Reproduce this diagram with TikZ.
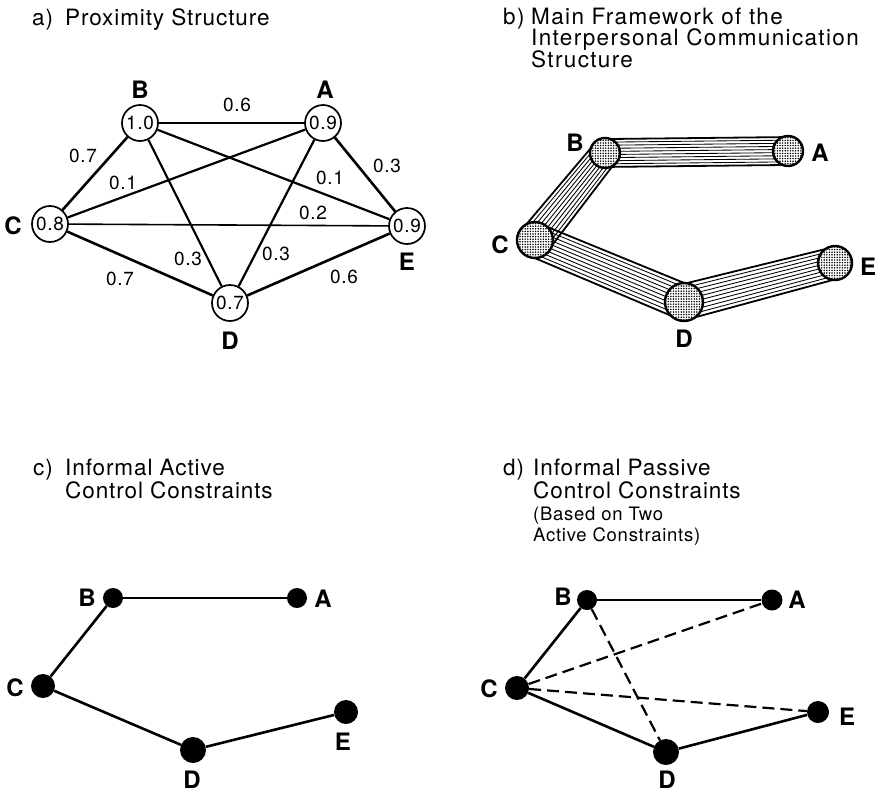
\documentclass[tikz,border=0pt]{standalone}
\usepackage{fontspec}
\usetikzlibrary{calc,patterns}
\newfontfamily\herostitle{TeX Gyre Heros}[LetterSpace=4]
\newfontfamily\heroswide{TeX Gyre Heros}[LetterSpace=6]
\newfontfamily\herosnum{TeX Gyre Heros}[LetterSpace=4]
\newfontfamily\heroslbl{TeX Gyre Heros}
\newcommand\titlefont{\herostitle\fontsize{22.5}{24}\selectfont}
\newcommand\widetitlefont{\heroswide\fontsize{22.5}{24}\selectfont}
\newcommand\smalltitlefont{\herostitle\fontsize{18.5}{20}\selectfont}
\newcommand\numfont{\herosnum\fontsize{19}{20}\selectfont}
\newcommand\lblfont{\heroslbl\bfseries\fontsize{24}{25}\selectfont}

% fine stipple used inside the framework circles
\pgfdeclarepatternformonly{stipple}{\pgfqpoint{-1pt}{-1pt}}{\pgfqpoint{1pt}{1pt}}{\pgfqpoint{2.6pt}{2.6pt}}%
  {\pgfpathcircle{\pgfpointorigin}{0.85pt}\pgfusepath{fill}}

% hatched band between two circle centres #1,#2 with radii #3,#4
\newcommand\drawband[4]{%
  \foreach \k in {0,...,9}{%
    \pgfmathsetmacro\bt{-1+2*\k/9}%
    \pgfmathsetmacro\da{0.93*\bt*#3}%
    \pgfmathsetmacro\db{0.93*\bt*#4}%
    \ifnum\k=0 \def\bw{1.8}\else\ifnum\k=9 \def\bw{1.8}\else\def\bw{0.85}\fi\fi
    \draw[line width=\bw] ($(#1)!\da pt!90:(#2)$) -- ($(#2)!\db pt!-90:(#1)$);
  }}

\begin{document}
\begin{tikzpicture}[x=1pt,y=-1pt,
  ttl/.style={anchor=base west,inner sep=0,font=\titlefont},
  wttl/.style={anchor=base west,inner sep=0,font=\widetitlefont},
  sttl/.style={anchor=base west,inner sep=0,font=\smalltitlefont},
  lbl/.style={inner sep=0,font=\lblfont},
  num/.style={inner sep=0,font=\numfont},
  pnode/.style={circle,draw,line width=1.7,fill=white,minimum size=36,inner sep=0,font=\numfont},
  snode/.style={circle,draw,line width=2.4,preaction={fill=white},pattern=stipple,inner sep=0},
  fnode/.style={circle,fill=black,inner sep=0},
  heavy/.style={line width=2.6},
  medium/.style={line width=2.2},
  light/.style={line width=1.6},
  link/.style={line width=2.6},
  passive/.style={line width=2.2,dash pattern=on 12pt off 6pt}]
\useasboundingbox (0,0) rectangle (879,793);

% ---------- a) Proximity Structure ----------
\node[ttl] (tA1) at (32,25) {a)};
\node[ttl] (tA2) at (65,25) {Proximity Structure};

\node[pnode] (aB) at (140,123) {1.0};
\node[pnode] (aA) at (323,123) {0.9};
\node[pnode] (aC) at (50,224) {0.8};
\node[pnode] (aE) at (407,226) {0.9};
\node[pnode] (aD) at (230,303) {0.7};

\draw[light]  (aB) -- (aA);
\draw[heavy]  (aB) -- (aC);
\draw[medium] (aC) -- (aA);
\draw[medium] (aB) -- (aE);
\draw[heavy]  (aA) -- (aE);
\draw[light]  (aC) -- (aE);
\draw[medium] (aB) -- (aD);
\draw[medium] (aA) -- (aD);
\draw[heavy]  (aC) -- (aD);
\draw[heavy]  (aD) -- (aE);

\node[lbl] (laB) at (140,90) {B};
\node[lbl] (laA) at (325,90) {A};
\node[lbl] (laC) at (13,226) {C};
\node[lbl] (laE) at (407,262) {E};
\node[lbl] (laD) at (230,341) {D};

\node[num] (wBA) at (237,105) {0.6};
\node[num] (wBC) at (83,156) {0.7};
\node[num] (wCA) at (123,183) {0.1};
\node[num] (wBE) at (330,178) {0.1};
\node[num] (wAE) at (387,166) {0.3};
\node[num] (wCE) at (313,213) {0.2};
\node[num] (wBD) at (188,259) {0.3};
\node[num] (wAD) at (276,254) {0.3};
\node[num] (wCD) at (120,279) {0.7};
\node[num] (wDE) at (344,277) {0.6};

% ---------- b) Main Framework ----------
\node[wttl] (tB1) at (503,24) {b)};
\node[wttl] (tB2) at (531,24) {Main Framework of the};
\node[wttl] (tB3) at (531,45.5) {Interpersonal Communication};
\node[wttl] (tB4) at (531,67) {Structure};

\coordinate (bB) at (605,153);
\coordinate (bA) at (788,151);
\coordinate (bC) at (535,240);
\coordinate (bD) at (684,302);
\coordinate (bE) at (835,263);

\drawband{bB}{bA}{15}{15}
\drawband{bC}{bB}{18}{15}
\drawband{bC}{bD}{18}{19}
\drawband{bD}{bE}{19}{17}

\node[snode,minimum size=30] (nbB) at (bB) {};
\node[snode,minimum size=30] (nbA) at (bA) {};
\node[snode,minimum size=36] (nbC) at (bC) {};
\node[snode,minimum size=38] (nbD) at (bD) {};
\node[snode,minimum size=34] (nbE) at (bE) {};

\node[lbl] (lbB) at (575,143) {B};
\node[lbl] (lbA) at (820,153) {A};
\node[lbl] (lbC) at (500,245) {C};
\node[lbl] (lbE) at (868,267) {E};
\node[lbl] (lbD) at (684,339) {D};

% ---------- c) Informal Active Control Constraints ----------
\node[ttl] (tC1) at (33,475) {c)};
\node[ttl] (tC2) at (65,475) {Informal Active};
\node[ttl] (tC3) at (65,498) {Control Constraints};

\node[fnode,minimum size=20] (cB) at (113,598) {};
\node[fnode,minimum size=20] (cA) at (297,598) {};
\node[fnode,minimum size=24] (cC) at (43,686) {};
\node[fnode,minimum size=26] (cD) at (193,750) {};
\node[fnode,minimum size=24] (cE) at (346,712) {};

\draw[link] (cB) -- (cA);
\draw[link] (cB) -- (cC);
\draw[link] (cC) -- (cD);
\draw[link] (cD) -- (cE);

\node[lbl] (lcB) at (87,598) {B};
\node[lbl] (lcA) at (323,599) {A};
\node[lbl] (lcC) at (15,688) {C};
\node[lbl] (lcE) at (343,742) {E};
\node[lbl] (lcD) at (192,780) {D};

% ---------- d) Informal Passive Control Constraints ----------
\node[ttl] (tD1) at (503,475) {d)};
\node[ttl] (tD2) at (533,475) {Informal Passive};
\node[ttl] (tD3) at (533,498) {Control Constraints};
\node[sttl] (tD4) at (533,520) {(Based on Two};
\node[sttl] (tD5) at (533,541) {Active Constraints)};

\node[fnode,minimum size=20] (dB) at (587,600) {};
\node[fnode,minimum size=21] (dA) at (772,600) {};
\node[fnode,minimum size=24] (dC) at (517,688) {};
\node[fnode,minimum size=26] (dD) at (666,752) {};
\node[fnode,minimum size=22] (dE) at (818,712) {};

\draw[link] (dB) -- (dA);
\draw[link] (dB) -- (dC);
\draw[link] (dC) -- (dD);
\draw[link] (dD) -- (dE);
\draw[passive] (dC) -- (dA);
\draw[passive] (dC) -- (dE);
\draw[passive] (dB) -- (dD);

\node[lbl] (ldB) at (563,597) {B};
\node[lbl] (ldA) at (797,600) {A};
\node[lbl] (ldC) at (489,689) {C};
\node[lbl] (ldE) at (847,717) {E};
\node[lbl] (ldD) at (667,780) {D};
\end{tikzpicture}
\end{document}
